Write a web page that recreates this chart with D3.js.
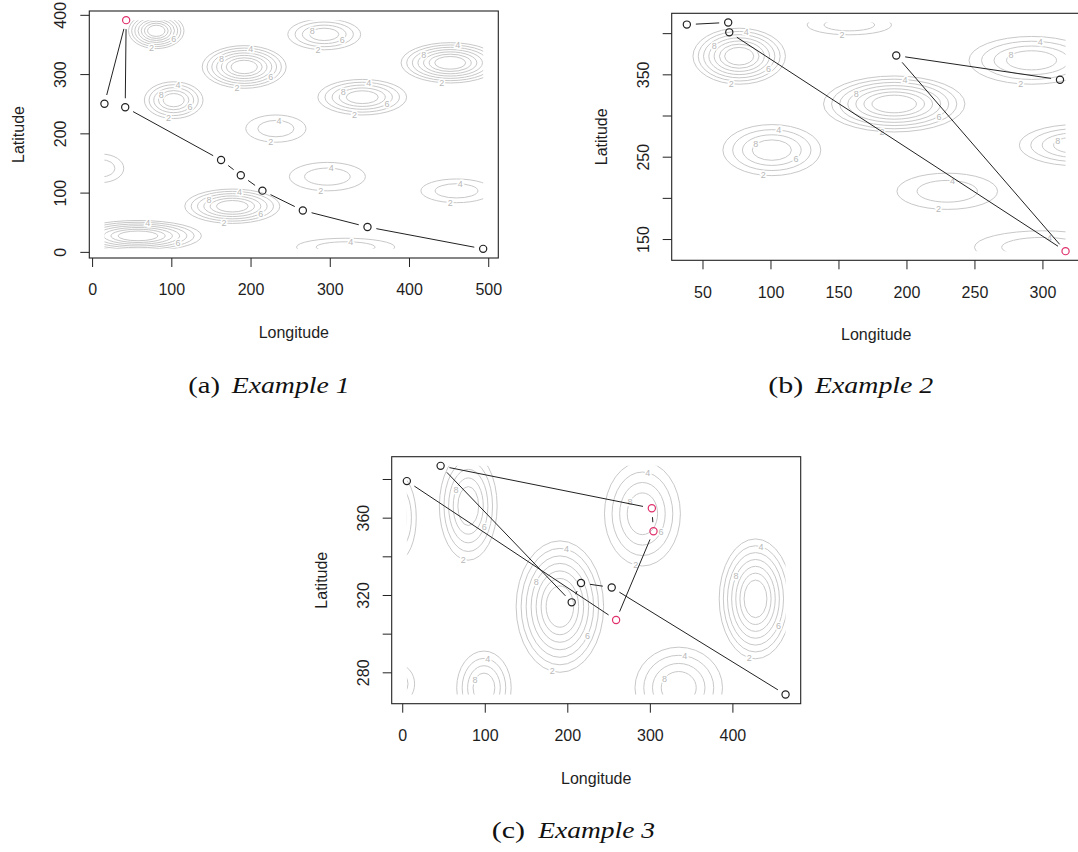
<!DOCTYPE html>
<html>
<head>
<meta charset="utf-8">
<script src="https://cdn.jsdelivr.net/npm/d3@7"></script>
<style>
body { margin: 0; background: #fff; }
svg { display: block; }
.tick text { font-family: "Liberation Sans", Arial, sans-serif; font-size: 16px; fill: #1e1e1e; }
.axis-title { font-family: "Liberation Sans", Arial, sans-serif; font-size: 16px; fill: #1e1e1e; }
.caption { font-family: "Liberation Serif", "Times New Roman", serif; font-size: 24px; fill: #111; }
</style>
</head>
<body>
<svg id="chart" width="1078" height="852"></svg>
<script>
/* Example 1 : route through the points, in drawing order */
const ex1Lon = [15.6, 43, 41.8, 162.8, 187.7, 215, 266, 347.6, 493.6];
const ex1Lat = [250, 391, 244, 155, 129.4, 103.3, 69.8, 42, 5.1];
const ex1Red = [1];
const ex1XTicks = [0, 100, 200, 300, 400, 500];
const ex1YTicks = [0, 100, 200, 300, 400];
const ex1YLabels = [0, 100, 200, 300, 400];
/* contour bumps: [centre lon, centre lat, radius lon, radius lat, number of rings] */
const ex1Bumps = [
    [81, 373, 35, 30, 7],
    [293, 367, 46, 26, 4],
    [192, 312, 53, 36, 7],
    [452, 319, 62, 34, 7],
    [103, 256, 37, 31, 5],
    [341, 261, 56, 30, 5],
    [232, 208, 38, 23, 2],
    [12, 141, 28, 24, 2],
    [297, 127, 48, 24, 2],
    [177, 77, 60, 29, 6],
    [460, 103, 45, 20, 2],
    [58, 27, 80, 26, 7],
    [320, 8, 62, 15, 2]
];

/* Example 2 */
const ex2Lon = [38.5, 68.9, 69.7, 317, 192.5, 312.9];
const ex2Lat = [410.4, 413, 401, 135.3, 372.8, 343.5];
const ex2Red = [3];
const ex2XTicks = [50, 100, 150, 200, 250, 300];
const ex2YTicks = [150, 200, 250, 300, 350, 400];
const ex2YLabels = [150, 250, 350];
const ex2Bumps = [
    [77, 372, 34, 34, 7],
    [158, 410, 31, 12, 2],
    [191, 314, 52, 34, 7],
    [292, 367, 46, 29, 4],
    [101, 258, 36, 31, 4],
    [230, 208, 37, 22, 2],
    [325, 264, 42, 25, 4],
    [300, 140, 50, 20, 2]
];

/* Example 3 */
const ex3Lon = [5.6, 259.1, 304.4, 302.4, 46.5, 205.3, 216.6, 253.8, 464.4];
const ex3Lat = [378.9, 307.1, 353, 364.9, 386.8, 316.2, 326.2, 323.9, 268.5];
const ex3Red = [1, 2, 3];
const ex3XTicks = [0, 100, 200, 300, 400];
const ex3YTicks = [280, 300, 320, 340, 360, 380];
const ex3YLabels = [280, 320, 360];
const ex3Bumps = [
    [80, 366, 35, 28, 5],
    [291, 362, 46, 27, 4],
    [191, 314, 53, 34, 7],
    [428, 318, 44, 31, 7],
    [335, 272, 53, 21, 4],
    [99, 272, 33, 19, 4],
    [-5, 360, 22, 22, 3],
    [-5, 274, 20, 10, 2]
];

const panelW = 409;
const panelH = 247;
const pointGap = 9; /* R type="b" leaves a gap round each point */
const inkColor = "#222";
const redColor = "#E0306A";
const contourColor = "#c8c8c8";

const svg = d3.select("#chart");
const defs = svg.append("defs");

function drawPanel(p, id){
    const g = svg.append("g");

    /* R style ranges: data extent plus 4% each side */
    const xr = d3.extent(p.lon), yr = d3.extent(p.lat);
    const xp = (xr[1] - xr[0]) * 0.04, yp = (yr[1] - yr[0]) * 0.04;
    const x = d3.scaleLinear().domain([xr[0] - xp, xr[1] + xp]).range([p.left, p.left + panelW]);
    const y = d3.scaleLinear().domain([yr[0] - yp, yr[1] + yp]).range([p.top + panelH, p.top]);

    /* contours only cover the grid = the data extent */
    const gx0 = x(xr[0]), gx1 = x(xr[1]), gy0 = y(yr[1]), gy1 = y(yr[0]);
    defs.append("clipPath").attr("id", "grid" + id)
        .append("rect")
        .attr("x", gx0)
        .attr("y", gy0)
        .attr("width", gx1 - gx0)
        .attr("height", gy1 - gy0);

    const cg = g.append("g").attr("clip-path", "url(#grid" + id + ")");
    const labelAngles = [100, -80, 35, -145];

    p.bumps.forEach(b => {
        const [cx, cy, rx, ry, n] = b;
        const px = x(cx), py = y(cy);
        const prx = x(cx + rx) - px, pry = py - y(cy + ry);
        for(let k = 0; k < n; k++){
            const f = 1 - k * 0.8 / n;
            cg.append("ellipse")
                .attr("cx", px).attr("cy", py)
                .attr("rx", prx * f).attr("ry", pry * f)
                .attr("fill", "none")
                .attr("stroke", contourColor)
                .attr("stroke-width", 1);
        }
        for(let k = 0; k < Math.min(n, 4); k++){
            const f = 1 - k * 0.8 / n;
            const a = labelAngles[k] * Math.PI / 180;
            const lx = px + prx * f * Math.cos(a);
            const ly = py + pry * f * Math.sin(a);
            /*skip labels that would fall outside the contour grid*/
            if(lx < gx0 + 4 || lx > gx1 - 4 || ly < gy0 + 4 || ly > gy1 - 4) continue;
            cg.append("text")
                .attr("x", lx)
                .attr("y", ly)
                .attr("dy", "0.35em")
                .attr("text-anchor", "middle")
                .attr("font-family", "Liberation Sans, Arial, sans-serif")
                .attr("font-size", 9)
                .attr("fill", "#b8b8b8")
                .attr("stroke", "#fff")
                .attr("stroke-width", 3)
                .attr("paint-order", "stroke")
                .text(2 * (k + 1));
        }
    });

    /* segments between consecutive points, shortened by the gap */
    const pts = p.lon.map((d, i) => ({px: x(d), py: y(p.lat[i]), red: p.red.includes(i)}));
    const segs = d3.pairs(pts).map(([a, b]) => {
        const dx = b.px - a.px, dy = b.py - a.py;
        const len = Math.hypot(dx, dy);
        return {len: len, ux: dx / len, uy: dy / len, a: a, b: b};
    }).filter(s => s.len > 2 * pointGap + 2);

    g.append("g").selectAll("line")
        .data(segs)
        .join("line")
        .attr("x1", s => s.a.px + s.ux * pointGap)
        .attr("y1", s => s.a.py + s.uy * pointGap)
        .attr("x2", s => s.b.px - s.ux * pointGap)
        .attr("y2", s => s.b.py - s.uy * pointGap)
        .attr("stroke", inkColor)
        .attr("stroke-width", 1);

    g.append("g").selectAll("circle")
        .data(pts)
        .join("circle")
        .attr("cx", d => d.px)
        .attr("cy", d => d.py)
        .attr("r", 3.6)
        .attr("fill", "none")
        .attr("stroke", d => d.red ? redColor : inkColor)
        .attr("stroke-width", 1.2);

    /* box */
    g.append("rect")
        .attr("x", p.left).attr("y", p.top)
        .attr("width", panelW).attr("height", panelH)
        .attr("fill", "none")
        .attr("stroke", inkColor)
        .attr("stroke-width", 1.1);

    /* axes */
    g.append("g")
        .attr("transform", "translate(0," + (p.top + panelH) + ")")
        .attr("color", inkColor)
        .call(d3.axisBottom(x).tickValues(p.xTicks).tickSize(9).tickPadding(17).tickFormat(d3.format("d")))
        .call(a => a.select(".domain").remove());

    g.append("g")
        .attr("transform", "translate(" + p.left + ",0)")
        .attr("color", inkColor)
        .call(d3.axisLeft(y).tickValues(p.yTicks).tickSize(9)
            .tickFormat(d => p.yLabels.includes(d) ? d : ""))
        .call(a => a.select(".domain").remove())
        .call(a => a.selectAll(".tick text")
            .attr("transform", "rotate(-90)")
            .attr("x", 0)
            .attr("y", -23)
            .attr("dy", 0)
            .attr("text-anchor", "middle"));

    g.append("text")
        .attr("class", "axis-title")
        .attr("x", p.left + panelW / 2)
        .attr("y", p.top + panelH + 80)
        .attr("text-anchor", "middle")
        .text("Longitude");

    g.append("text")
        .attr("class", "axis-title")
        .attr("transform", "translate(" + (p.left - 65) + "," + (p.top + panelH / 2) + ") rotate(-90)")
        .attr("text-anchor", "middle")
        .text("Latitude");

    /* sub caption */
    g.append("text")
        .attr("class", "caption")
        .attr("x", p.capX).attr("y", p.capY)
        .attr("textLength", p.tagW)
        .attr("lengthAdjust", "spacingAndGlyphs")
        .text(p.tag);
    g.append("text")
        .attr("class", "caption")
        .attr("x", p.titleX).attr("y", p.capY)
        .attr("font-style", "italic")
        .attr("textLength", p.titleW)
        .attr("lengthAdjust", "spacingAndGlyphs")
        .text(p.title);
}

drawPanel({left: 89.3, top: 11, lon: ex1Lon, lat: ex1Lat, red: ex1Red, bumps: ex1Bumps,
    xTicks: ex1XTicks, yTicks: ex1YTicks, yLabels: ex1YLabels,
    tag: "(a)", title: "Example 1", capX: 188.3, tagW: 31.7, titleX: 231.7, titleW: 118, capY: 393.3}, 1);

drawPanel({left: 671.7, top: 13.3, lon: ex2Lon, lat: ex2Lat, red: ex2Red, bumps: ex2Bumps,
    xTicks: ex2XTicks, yTicks: ex2YTicks, yLabels: ex2YLabels,
    tag: "(b)", title: "Example 2", capX: 768.3, tagW: 35, titleX: 815, titleW: 118.3, capY: 393.3}, 2);

drawPanel({left: 391.7, top: 456.7, lon: ex3Lon, lat: ex3Lat, red: ex3Red, bumps: ex3Bumps,
    xTicks: ex3XTicks, yTicks: ex3YTicks, yLabels: ex3YLabels,
    tag: "(c)", title: "Example 3", capX: 491.7, tagW: 33.3, titleX: 538.3, titleW: 116.7, capY: 838.3}, 3);
</script>
</body>
</html>
